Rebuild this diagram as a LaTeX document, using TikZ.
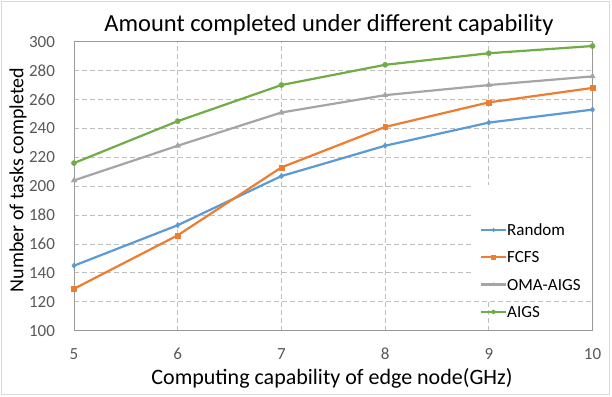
\documentclass[tikz,border=0pt]{standalone}
\usepackage{fontspec}
\setmainfont{Carlito}
\usepackage{tikz}
\usetikzlibrary{positioning,shapes.geometric,plotmarks}
\definecolor{crand}{RGB}{91,155,213}
\definecolor{cfcfs}{RGB}{237,125,49}
\definecolor{coma}{RGB}{165,165,165}
\definecolor{caigs}{RGB}{112,173,71}
\definecolor{cgrid}{RGB}{191,191,191}
\definecolor{ctick}{RGB}{89,89,89}
\definecolor{cframe}{RGB}{217,217,217}
\tikzset{
  grd/.style={cgrid, line width=0.8pt, dash pattern=on 5pt off 3pt},
  axbox/.style={draw=cgrid!80!black, line width=0.9pt},
  ser/.style={line width=2.2pt, line join=round, mark options={solid, line width=0.4pt}},
  mrand/.style={crand, mark=diamond*, mark size=2.8pt},
  mfcfs/.style={cfcfs, mark=square*, mark size=2.4pt},
  moma/.style={coma, mark=triangle*, mark size=3.2pt},
  maigs/.style={caigs, mark=*, mark size=2.6pt},
  ttl/.style={font=\fontsize{24.5}{26}\selectfont, text=black},
  axl/.style={font=\fontsize{22}{24}\selectfont, text=black},
  tck/.style={font=\fontsize{17}{19}\selectfont, text=ctick},
  leg/.style={font=\fontsize{17}{19}\selectfont, text=black, anchor=west, inner sep=1pt},
}

\begin{document}
\begin{tikzpicture}[x=1pt, y=1pt]
  \useasboundingbox (0,0) rectangle (612,396);
  \draw[cframe, line width=0.8pt, fill=white] (1.5,1.5) rectangle (609.5,394.5);
  \begin{scope}[xshift=-444.5pt, yshift=-79.2pt, x=103.7pt, y=1.445pt]
    \foreach \v in {120,140,...,280} \draw[grd] (5,\v) -- (10,\v);
    \foreach \u in {6,...,9} \draw[grd] (\u,100) -- (\u,300);
    \draw[axbox] (5,100) rectangle (10,300);
    \foreach \v in {100,120,...,300}
      \node[tck, anchor=east] (yt\v) at (4.85,\v) {\v};
    \foreach \u in {5,...,10}
      \node[tck] (xt\u) at (\u,84) {\u};
    % legend box
    \fill[white] (8.84,122) rectangle (9.985,201);
    \draw[ser, mrand] plot coordinates {(5,145) (6,173) (7,207) (8,228) (9,244) (10,253)};
    \draw[ser, mfcfs] plot coordinates {(5,129) (6,166) (7,213) (8,241) (9,258) (10,268)};
    \draw[ser, moma] plot coordinates {(5,204) (6,228) (7,251) (8,263) (9,270) (10,276)};
    \draw[ser, maigs] plot coordinates {(5,216) (6,245) (7,270) (8,284) (9,292) (10,297)};
  \end{scope}
  \node[ttl] (title) at (329,371) {Amount completed under different capability};
  \node[axl] (xlab) at (332,18) {Computing capability of edge node(GHz)};
  \node[axl, font=\fontsize{20}{22}\selectfont, rotate=90] (ylab) at (18,216) {Number of tasks completed};
  % legend entries
  \foreach \name/\col [count=\i] in {Random/rand, FCFS/fcfs, OMA-AIGS/oma, AIGS/aigs} {
    \coordinate (l\i) at (481,{396-230-27.3*(\i-1)});
    \draw[ser, c\col] (l\i) -- ++(12.5,0) coordinate (k\i) -- ++(12.5,0) coordinate (r\i);
    \draw[ser, m\col, mark size=2pt] plot coordinates {(k\i)};
    \node[leg] (t\i) at (r\i) {\name};
  }
\end{tikzpicture}
\end{document}
